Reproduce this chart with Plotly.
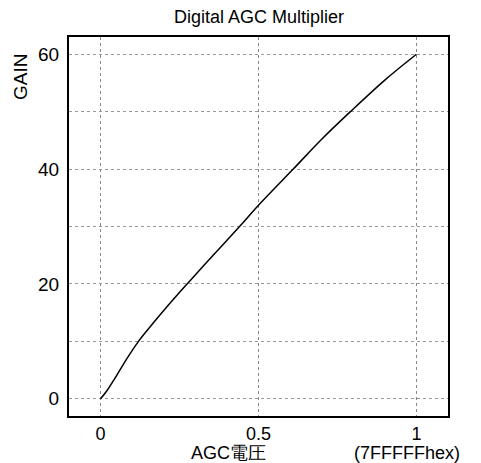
import plotly.graph_objects as go

agc = [0, 0.02, 0.04, 0.08, 0.12, 0.17, 0.232, 0.274, 0.36, 0.44, 0.5, 0.61, 0.7, 0.791, 0.9, 1.0]
gain = [0, 1.4, 3.1, 6.7, 10, 13.4, 17.4, 20, 25.2, 30, 33.7, 40, 45.2, 50, 55.5, 60]

x_ticks = [0, 0.5, 1]
x_labels = ["0", "0.5", "1"]
y_ticks = [0, 10, 20, 30, 40, 50, 60]
y_labels = ["0", "", "20", "", "40", "", "60"]

font = "Liberation Sans, Arial, sans-serif"

fig = go.Figure()
fig.add_trace(go.Scatter(x=agc, y=gain, mode="lines", line=dict(color="black", width=1.5, shape="spline", smoothing=1),
                         showlegend=False, hoverinfo="skip"))

fig.update_layout(
    width=481, height=463,
    margin=dict(l=69, r=33, t=37, b=47),
    paper_bgcolor="white", plot_bgcolor="white",
    font=dict(family=font, color="black", size=18),
    xaxis=dict(range=[-0.1, 1.1], tickvals=x_ticks, ticktext=x_labels,
               showgrid=True, gridcolor="#888", griddash="dot", gridwidth=1,
               showline=True, linecolor="black", linewidth=2, mirror=True,
               zeroline=False, ticks="", tickfont=dict(size=18)),
    yaxis=dict(range=[-3, 63], tickvals=y_ticks, ticktext=y_labels,
               showgrid=True, gridcolor="#999", griddash="dot", gridwidth=1,
               showline=True, linecolor="black", linewidth=2, mirror=True,
               zeroline=False, ticks="", ticklabelstandoff=4, tickfont=dict(size=19)),
    annotations=[
        dict(text="Digital AGC Multiplier", xref="paper", yref="paper", x=0.5, y=1, yshift=20,
             showarrow=False, font=dict(size=18), xanchor="center", yanchor="middle"),
        dict(text="GAIN", xref="paper", yref="paper", x=0, xshift=-49, y=1, yshift=-40,
             showarrow=False, textangle=-90, font=dict(size=19), xanchor="center", yanchor="middle"),
        dict(text="AGC電圧", xref="paper", yref="paper", x=0.5, y=0, yshift=-37,
             showarrow=False, font=dict(size=18), xanchor="center", yanchor="middle",
             xshift=-30),
        dict(text="(7FFFFFhex)", xref="paper", yref="paper", x=1, y=0, yshift=-37, xshift=-41,
             showarrow=False, font=dict(size=18), xanchor="center", yanchor="middle"),
    ],
)

fig.write_html("out.html")
